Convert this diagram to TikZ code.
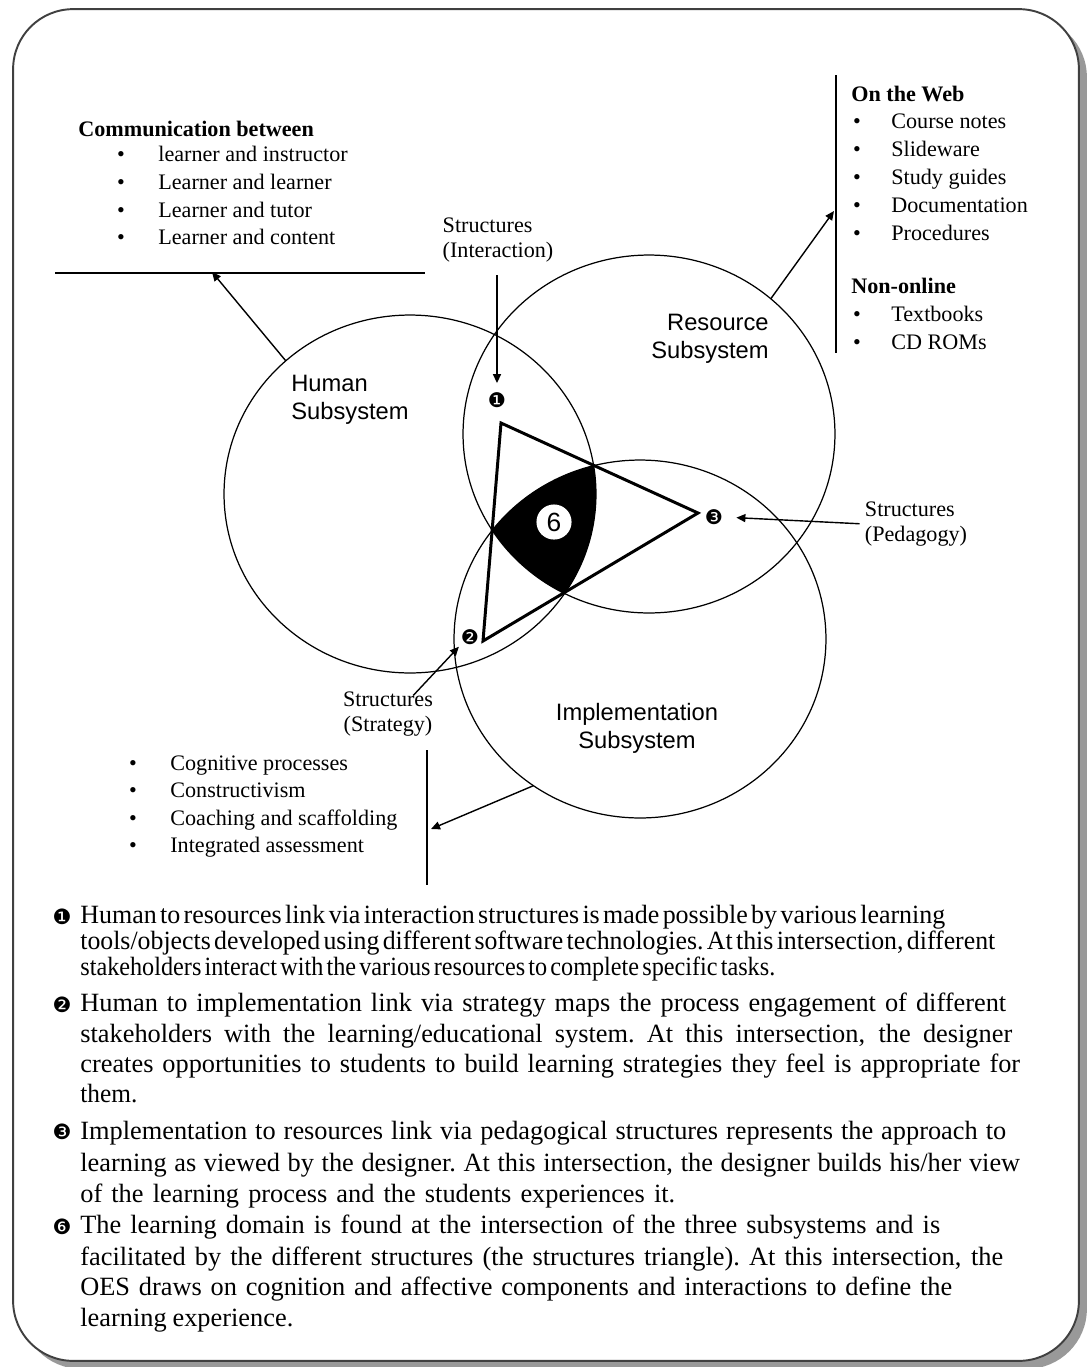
\documentclass[tikz,border=0pt]{standalone}
\usepackage{graphicx}
\usepackage{fontspec}
\setmainfont{Liberation Serif}
\newfontfamily\arialfont{Liberation Sans}
\newfontfamily\dingfont{DejaVu Sans}
\usetikzlibrary{arrows.meta,shapes.geometric,shadows}
% stretch or squeeze one line of the notes to a given width
\newcommand\fitline[2]{%
  \setbox0=\hbox{\spaceskip=.13em\xspaceskip=.13em #2}%
  \ifdim\wd0>#1\relax\resizebox{#1}{\height}{\box0}%
  \else\hbox to #1{\spaceskip=.25em plus 1fil minus .12em\xspaceskip=\spaceskip #2}\fi}
\tikzset{
  >={Triangle[length=1.8mm,width=1.6mm]},
  page/.style={draw=black!75,line width=1.1pt,fill=white,rounded corners=1.2cm,
    minimum width=21.32cm,minimum height=27.04cm,inner sep=0pt,
    drop shadow={shadow xshift=1.6mm,shadow yshift=-1.6mm,fill=black!40,opacity=1}},
  sys/.style={ellipse,draw,line width=0.7pt,minimum width=7.44cm,minimum height=7.16cm,
    inner sep=0pt,outer sep=0pt},
  sub/.style={font=\arialfont\fontsize{13.5}{16}\selectfont,align=#1,inner sep=0pt},
  sub/.default=left,
  note/.style={font=\fontsize{12.6}{14.2}\selectfont,align=#1,inner sep=0pt},
  note/.default=left,
  txt/.style={font=\fontsize{12.6}{15}\selectfont,inner sep=0pt,anchor=base west},
  head/.style={txt,font=\fontsize{12.6}{15}\selectfont\bfseries},
  dot/.style={font=\fontsize{12.6}{15}\selectfont,inner sep=0pt,anchor=base},
  para/.style={font=\fontsize{15}{18}\selectfont,inner sep=0pt,anchor=base west},
  numtag/.style={font=\dingfont\fontsize{#1}{#1}\selectfont,inner sep=0pt},
  numtag/.default=11.5,
  link/.style={->,line width=0.8pt},
  rule/.style={line width=0.8pt},
  tri/.style={line width=1.7pt,line join=miter},
}
\begin{document}
\begin{tikzpicture}[x=0.02cm,y=-0.02cm]
  \useasboundingbox (0,0) rectangle (1090,1367);
  \node[page] (pg) at (546,685) {};

  % the three subsystems
  \node[sys] (hum) at (410,494) {};
  \node[sys] (res) at (649,434) {};
  \node[sys] (imp) at (640,639) {};
  \begin{scope}
    \clip (410,494) ellipse [x radius=3.72cm, y radius=3.58cm];
    \clip (649,434) ellipse [x radius=3.72cm, y radius=3.58cm];
    \fill (640,639) ellipse [x radius=3.72cm, y radius=3.58cm];
  \end{scope}
  \coordinate (ta) at (501,423);
  \coordinate (tb) at (698,513);
  \coordinate (tc) at (483,641);
  \draw[tri] (ta) -- (tb) -- (tc) -- cycle;

  \node[numtag] (m1) at (497,400) {❶};
  \node[numtag] (m2) at (470,637) {❷};
  \node[numtag] (m3) at (714,517) {❸};
  \node[circle,fill=white,inner sep=2.3pt,font=\arialfont\fontsize{15}{15}\selectfont] (m6) at (554,522) {6};

  \node[sub] (hlab) at (350,400) {Human\\Subsystem};
  \node[sub=right] (rlab) at (710,339) {Resource\\Subsystem};
  \node[sub=center] (ilab) at (637,728) {Implementation\\Subsystem};

  \node[note] (sint) at (498,240) {Structures\\(Interaction)};
  \node[note=center] (sstr) at (388,714) {Structures\\(Strategy)};
  \node[note] (sped) at (916,524) {Structures\\(Pedagogy)};

  % communication
  \node[head] (comm) at (78,136) {Communication between};
  \foreach \lbl [count=\i] in {learner and instructor,Learner and learner,Learner and tutor,Learner and content}{
    \node[dot] (cb\i) at (121,134+27.7*\i) {\textbullet};
    \node[txt] (c\i) at (158,134+27.7*\i) {\lbl};
  }
  \draw[rule] (55,273) -- (425,273);
  \coordinate (cl) at (212,272);

  % resources
  \node[head] (web) at (851,101) {On the Web};
  \foreach \lbl [count=\i] in {Course notes,Slideware,Study guides,Documentation,Procedures}{
    \node[dot] (wb\i) at (857,101+27.8*\i) {\textbullet};
    \node[txt] (w\i) at (891,101+27.8*\i) {\lbl};
  }
  \node[head] (off) at (851,293) {Non-online};
  \foreach \lbl [count=\i] in {Textbooks,CD ROMs}{
    \node[dot] (ob\i) at (857,293+28*\i) {\textbullet};
    \node[txt] (o\i) at (891,293+28*\i) {\lbl};
  }
  \draw[rule] (836,75) -- (836,353);
  \coordinate (wl) at (834,211);

  % strategy
  \foreach \lbl [count=\i] in {Cognitive processes,Constructivism,Coaching and scaffolding,Integrated assessment}{
    \node[dot] (sb\i) at (133,742.7+27.5*\i) {\textbullet};
    \node[txt] (s\i) at (170,742.7+27.5*\i) {\lbl};
  }
  \draw[rule] (427,750) -- (427,885);
  \coordinate (sl) at (431,829);

  \draw[link] (hum.133) -- (cl);
  \draw[link] (res.48) -- (wl);
  \draw[link] (imp.234) -- (sl);
  \draw[link,shorten <=2.5mm,shorten >=1.8mm] (sint.south -| m1) -- (m1.north);
  \draw[link,shorten <=1mm,shorten >=2.6mm] (sped.west) -- (m3.east);
  \draw[link,shorten >=0.5mm] ([xshift=-0.4cm,yshift=-0.08cm]sstr.north east) -- (m2.south west);

  % notes
  \foreach \y/\lbl [count=\i] in {917/❶,1005/❷,1132/❸,1227/❻}
    \node[numtag=12] (n\i) at (62,\y) {\lbl};
  \foreach \y/\w/\lbl [count=\i] in {
    923/17.30cm/{Human to resources link via interaction structures is made possible by various learning},
    949/18.30cm/{tools/objects developed using different software technologies. At this intersection, different},
    975/13.90cm/{stakeholders interact with the various resources to complete specific tasks.},
    1011/18.52cm/{Human to implementation link via strategy maps the process engagement of different},
    1042/18.64cm/{stakeholders with the learning/educational system. At this intersection, the designer},
    1072/18.80cm/{creates opportunities to students to build learning strategies they feel is appropriate for},
    1102/1.14cm/{them.},
    1139/18.52cm/{Implementation to resources link via pedagogical structures represents the approach to},
    1171/18.80cm/{learning as viewed by the designer. At this intersection, the designer builds his/her view},
    1202/11.90cm/{of the learning process and the students experiences it.},
    1233/17.20cm/{The learning domain is found at the intersection of the three subsystems and is},
    1265/18.46cm/{facilitated by the different structures (the structures triangle). At this intersection, the},
    1295/17.44cm/{OES draws on cognition and affective components and interactions to define the},
    1326/4.26cm/{learning experience.}}
    \node[para] (p\i) at (80,\y) {\fitline{\w}{\lbl}};
\end{tikzpicture}
\end{document}
